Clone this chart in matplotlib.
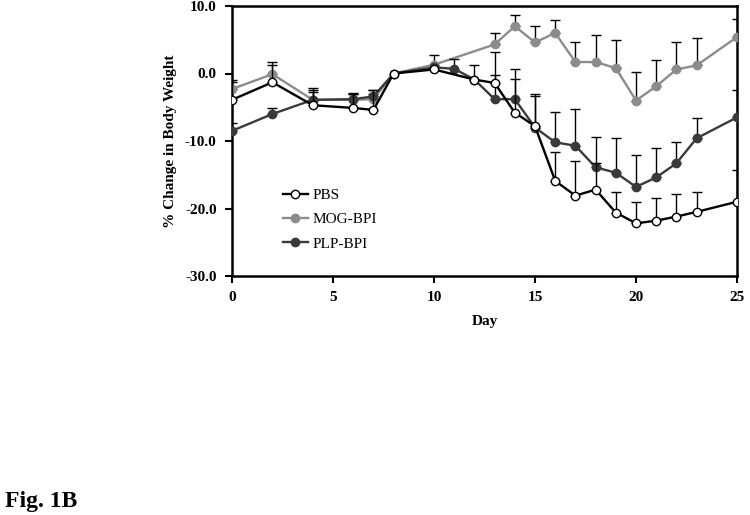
import numpy as np
import matplotlib
matplotlib.use("Agg")
import matplotlib.pyplot as plt

# ---- data ----
pbs_days = [0, 2, 4, 6, 7, 8, 10, 12, 13, 14, 15, 16, 17, 18, 19, 20, 21, 22, 23, 25]
pbs_vals = [-3.9, -1.3, -4.7, -5.1, -5.4, 0.0, 0.6, -0.9, -1.4, -5.8, -7.8, -15.9, -18.1, -17.2,
            -20.6, -22.2, -21.8, -21.2, -20.5, -19.0]
pbs_top = [-1.2, 1.3, -2.4, -3.0, -2.5, np.nan, np.nan, np.nan, 3.2, 0.7, -3.0, -11.7, -12.9, -13.2,
           -17.5, -19.0, -18.4, -17.9, -17.5, -14.3]

mog_days = [0, 2, 4, 6, 7, 8, 10, 13, 14, 15, 16, 17, 18, 19, 20, 21, 22, 23, 25]
mog_vals = [-2.3, -0.1, -3.9, -3.9, -3.8, 0.0, 1.3, 4.3, 7.0, 4.6, 6.0, 1.7, 1.7, 0.8,
            -4.0, -1.9, 0.6, 1.2, 5.4]
mog_top = [-1.0, 1.7, -2.7, -2.9, -3.0, np.nan, 2.8, 6.0, 8.6, 7.1, 7.9, 4.6, 5.7, 4.9,
           0.2, 2.0, 4.6, 5.2, 8.1]

plp_days = [0, 2, 4, 6, 7, 8, 10, 11, 12, 13, 14, 15, 16, 17, 18, 19, 20, 21, 22, 23, 25]
plp_vals = [-8.5, -6.0, -3.9, -3.8, -3.4, 0.0, 0.9, 0.7, -0.9, -3.8, -3.8, -8.0, -10.2, -10.7,
            -13.9, -14.7, -16.8, -15.4, -13.3, -9.6, -6.5]
plp_top = [-7.4, -5.1, -2.1, -3.0, -2.5, np.nan, np.nan, 2.2, 1.3, -0.2, -0.8, -3.3, -5.7, -5.2,
           -9.4, -9.5, -12.0, -11.1, -10.1, -6.6, -2.4]

x_ticks = [0, 5, 10, 15, 20, 25]
y_ticks = [-30, -20, -10, 0, 10]

SERIF = ["Liberation Serif", "DejaVu Serif"]

fig = plt.figure(figsize=(7.5, 5.15), dpi=100)
ax = fig.add_axes([232 / 750, 1 - 276 / 515, 505 / 750, 270 / 515])

def draw(days, vals, top, color, mfc, label, z):
    d = np.array(days, float)
    v = np.array(vals, float)
    t = np.array(top, float)
    up = np.where(np.isnan(t), 0.0, t - v)
    m = ~np.isnan(t)
    ax.errorbar(d[m], v[m], yerr=[np.zeros(m.sum()), up[m]], fmt="none",
                ecolor="black", elinewidth=1.0, capsize=3.5, capthick=1.0, zorder=z - 0.5)
    ax.plot(d, v, color=color, lw=1.7, marker="o", ms=6, mfc=mfc, mec=color,
            mew=1.0, label=label, zorder=z)

draw(pbs_days, pbs_vals, pbs_top, "black", "white", "PBS", 5)
draw(mog_days, mog_vals, mog_top, "#8c8c8c", "#8c8c8c", "MOG-BPI", 3)
draw(plp_days, plp_vals, plp_top, "#3a3a3a", "#3a3a3a", "PLP-BPI", 4)

ax.set_xlim(0, 25)
ax.set_ylim(-30, 10)
ax.set_xticks(x_ticks)
ax.set_yticks(y_ticks)
ax.set_yticklabels([f"{v:.1f}" for v in y_ticks])
for s in ax.spines.values():
    s.set_linewidth(1.8)
ax.tick_params(direction="out", length=5, width=1.5, pad=6)
for lab in ax.get_xticklabels() + ax.get_yticklabels():
    lab.set_family(SERIF)
    lab.set_fontweight("bold")
    lab.set_fontsize(11)

ax.set_xlabel("Day", family=SERIF, fontweight="bold", fontsize=11, labelpad=8)
ax.set_ylabel("% Change in Body Weight", family=SERIF, fontweight="bold", fontsize=11, labelpad=6)

leg = ax.legend(loc="upper left", bbox_to_anchor=(0.1, 0.325), frameon=False,
                prop={"family": SERIF, "size": 11}, handlelength=1.65,
                handletextpad=0.3, labelspacing=0.7, borderpad=0, borderaxespad=0)

fig.text(5 / 750, 1 - 507 / 515, "Fig. 1B", family=SERIF, fontweight="bold",
         fontsize=17, va="baseline", ha="left")

fig.savefig("out.png", dpi=100)
